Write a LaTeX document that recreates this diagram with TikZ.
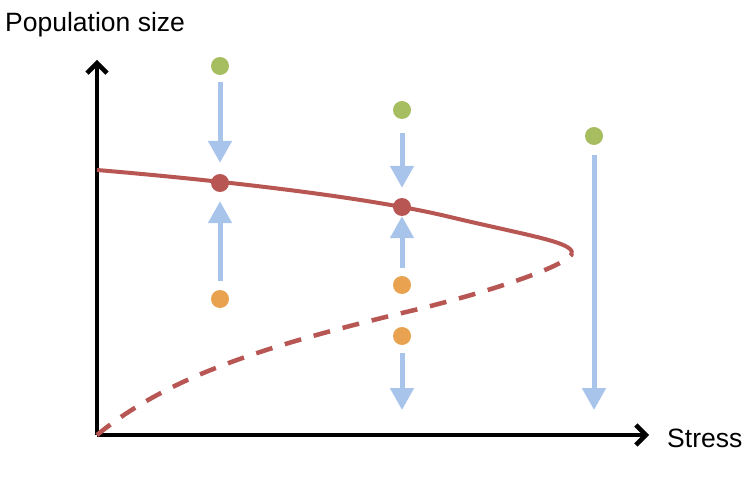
\documentclass[tikz,border=0pt]{standalone}
\usepackage{fontspec}
\setmainfont{Liberation Sans}
\usetikzlibrary{arrows.meta}
\definecolor{curve-red}{RGB}{183,86,82}
\definecolor{dot-green}{RGB}{166,190,96}
\definecolor{dot-orange}{RGB}{232,162,80}
\definecolor{flow-blue}{RGB}{168,196,234}
\tikzset{
    axis-line/.style = {line width=4.5pt, -{Straight Barb[length=10pt,width=20pt]}},
    state-dot/.style = {circle, inner sep=0pt, minimum size=18pt},
    green-dot/.style = {state-dot, fill=dot-green},
    red-dot/.style = {state-dot, fill=curve-red},
    orange-dot/.style = {state-dot, fill=dot-orange},
    flow-arrow/.style = {draw=flow-blue, line width=5pt, -{Triangle[length=22pt,width=23pt]}},
    branch/.style = {draw=curve-red, line width=4pt},
    axis-label/.style = {font=\fontsize{26.5}{30}\selectfont, inner sep=0pt},
}

\begin{document}
\begin{tikzpicture}[x=1pt, y=-1pt]
\useasboundingbox (0,0) rectangle (754,481);
% axes
\coordinate (origin) at (97,435);
\coordinate (y-end) at (97,60);
\coordinate (x-end) at (649,435);
\draw[axis-line] (origin) -- (y-end);
\draw[axis-line] (origin) -- (x-end);
\node[axis-label, anchor=base west] (ylabel) at (5,32) {Population size};
\node[axis-label, anchor=base west] (xlabel) at (667,447) {Stress};
% stable and unstable branches
\coordinate (fold) at (572,253);
\draw[branch] (97,170) .. controls (250,183) and (380,200) .. (450,217)
    .. controls (530,236) and (572,242) .. (fold);
\draw[branch, line width=4.5pt, dash pattern=on 17pt off 13pt] (origin) .. controls (170,375) and (270,345) .. (402,313)
    .. controls (500,290) and (572,263) .. (fold);
% states
\node[green-dot] (g1) at (220,66) {};
\node[red-dot] (r1) at (220,183) {};
\node[orange-dot] (o1) at (220,299) {};
\node[green-dot] (g2) at (402,110) {};
\node[red-dot] (r2) at (402,207) {};
\node[orange-dot] (o2) at (402,285) {};
\node[orange-dot] (o3) at (402,336) {};
\node[green-dot] (g3) at (594,136) {};
\coordinate (end2) at (402,410);
\coordinate (end3) at (594,410);
% flows
\draw[flow-arrow, shorten <=7pt, shorten >=11pt] (g1) -- (r1);
\draw[flow-arrow, shorten <=9pt, shorten >=9pt] (o1) -- (r1);
\draw[flow-arrow, shorten <=14pt, shorten >=10pt] (g2) -- (r2);
\draw[flow-arrow, shorten <=8pt, shorten >=0pt] (o2) -- (r2);
\draw[flow-arrow, shorten <=8pt] (o3) -- (end2);
\draw[flow-arrow, shorten <=10pt] (g3) -- (end3);
\end{tikzpicture}
\end{document}
